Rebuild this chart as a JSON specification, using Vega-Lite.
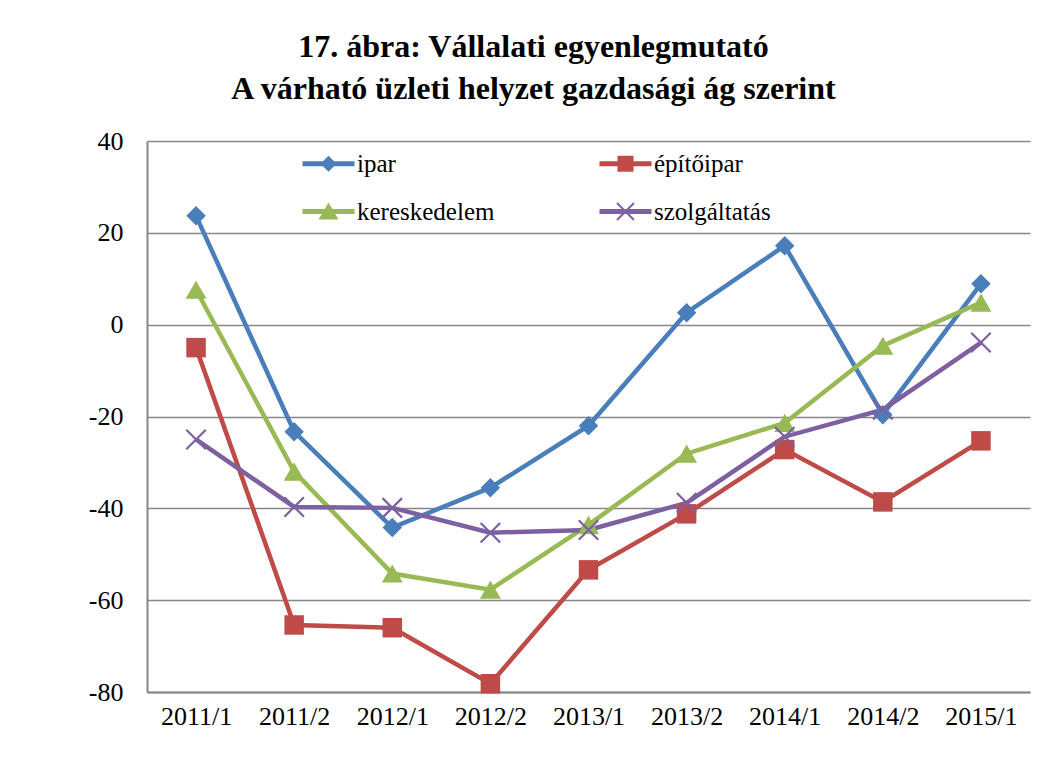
{
  "$schema": "https://vega.github.io/schema/vega-lite/v6.json",
  "autosize": {"type": "none"},
  "width": 883,
  "height": 551,
  "padding": {"left": 147, "top": 141, "right": 16, "bottom": 66},
  "background": "white",
  "title": {
    "text": ["17. ábra: Vállalati egyenlegmutató", "A várható üzleti helyzet gazdasági ág szerint"],
    "font": "Liberation Serif",
    "fontSize": 32,
    "fontWeight": "bold",
    "color": "black",
    "anchor": "middle",
    "dx": -55,
    "lineHeight": 42,
    "baseline": "bottom",
    "offset": -10
  },
  "data": {
    "values": [
      {"p": "2011/1", "s": "ipar", "v": 23.7},
      {"p": "2011/2", "s": "ipar", "v": -23.3},
      {"p": "2012/1", "s": "ipar", "v": -44.2},
      {"p": "2012/2", "s": "ipar", "v": -35.5},
      {"p": "2013/1", "s": "ipar", "v": -22.0},
      {"p": "2013/2", "s": "ipar", "v": 2.6},
      {"p": "2014/1", "s": "ipar", "v": 17.2},
      {"p": "2014/2", "s": "ipar", "v": -19.6},
      {"p": "2015/1", "s": "ipar", "v": 8.9},
      {"p": "2011/1", "s": "építőipar", "v": -5.0},
      {"p": "2011/2", "s": "építőipar", "v": -65.4},
      {"p": "2012/1", "s": "építőipar", "v": -66.0},
      {"p": "2012/2", "s": "építőipar", "v": -78.2},
      {"p": "2013/1", "s": "építőipar", "v": -53.4},
      {"p": "2013/2", "s": "építőipar", "v": -41.2},
      {"p": "2014/1", "s": "építőipar", "v": -27.2},
      {"p": "2014/2", "s": "építőipar", "v": -38.6},
      {"p": "2015/1", "s": "építőipar", "v": -25.3},
      {"p": "2011/1", "s": "kereskedelem", "v": 7.6},
      {"p": "2011/2", "s": "kereskedelem", "v": -32.0},
      {"p": "2012/1", "s": "kereskedelem", "v": -54.2},
      {"p": "2012/2", "s": "kereskedelem", "v": -57.7},
      {"p": "2013/1", "s": "kereskedelem", "v": -43.6},
      {"p": "2013/2", "s": "kereskedelem", "v": -28.1},
      {"p": "2014/1", "s": "kereskedelem", "v": -21.4},
      {"p": "2014/2", "s": "kereskedelem", "v": -4.6},
      {"p": "2015/1", "s": "kereskedelem", "v": 4.8},
      {"p": "2011/1", "s": "szolgáltatás", "v": -25.0},
      {"p": "2011/2", "s": "szolgáltatás", "v": -39.7},
      {"p": "2012/1", "s": "szolgáltatás", "v": -39.9},
      {"p": "2012/2", "s": "szolgáltatás", "v": -45.3},
      {"p": "2013/1", "s": "szolgáltatás", "v": -44.7},
      {"p": "2013/2", "s": "szolgáltatás", "v": -38.8},
      {"p": "2014/1", "s": "szolgáltatás", "v": -24.4},
      {"p": "2014/2", "s": "szolgáltatás", "v": -18.5},
      {"p": "2015/1", "s": "szolgáltatás", "v": -3.9}
    ]
  },
  "encoding": {
    "x": {
      "field": "p",
      "type": "ordinal",
      "scale": {"type": "point", "padding": 0.5},
      "axis": {
        "title": null,
        "labelAngle": 0,
        "labelFont": "Liberation Serif",
        "labelFontSize": 26,
        "labelColor": "black",
        "labelPadding": 11,
        "ticks": false,
        "domainColor": "#868686",
        "domainWidth": 2,
        "grid": false
      }
    },
    "y": {
      "field": "v",
      "type": "quantitative",
      "scale": {"domain": [-80, 40], "nice": false, "zero": false},
      "axis": {
        "title": null,
        "values": [-80, -60, -40, -20, 0, 20, 40],
        "labelExpr": "'' + datum.value",
        "labelFont": "Liberation Serif",
        "labelFontSize": 26,
        "labelColor": "black",
        "labelPadding": 24,
        "ticks": false,
        "domainColor": "#868686",
        "domainWidth": 2,
        "grid": true,
        "gridColor": "#868686",
        "gridWidth": 1.5
      }
    }
  },
  "layer": [
    {
      "mark": {"type": "point", "filled": true, "opacity": 0, "strokeWidth": 0},
      "encoding": {
        "color": {
          "field": "s",
          "type": "nominal",
          "scale": {
            "domain": ["ipar", "építőipar", "kereskedelem", "szolgáltatás"],
            "range": ["#4A7EBB", "#BE4B48", "#98B954", "#7D60A0"]
          },
          "legend": {
            "title": null,
            "orient": "none",
            "direction": "horizontal",
            "columns": 2,
            "legendX": 169,
            "legendY": 10,
            "padding": 0,
            "symbolSize": 400,
            "symbolOpacity": 1,
            "symbolStrokeWidth": 0,
            "labelOffset": 16,
            "labelFont": "Liberation Serif",
            "labelFontSize": 25,
            "labelColor": "black",
            "columnPadding": 104,
            "rowPadding": 22
          }
        },
        "shape": {
          "field": "s",
          "type": "nominal",
          "scale": {
            "domain": ["ipar", "építőipar", "kereskedelem", "szolgáltatás"],
            "range": [
              "M-2.6,-0.25L2.6,-0.25L2.6,0.25L-2.6,0.25Z M0,-0.8L0.8,0L0,0.8L-0.8,0Z",
              "M-2.6,-0.25L2.6,-0.25L2.6,0.25L-2.6,0.25Z M-0.8,-0.8L0.8,-0.8L0.8,0.8L-0.8,0.8Z",
              "M-2.6,-0.25L2.6,-0.25L2.6,0.25L-2.6,0.25Z M0,-0.9L1,0.8L-1,0.8Z",
              "M-2.6,-0.25L2.6,-0.25L2.6,0.25L-2.6,0.25Z M-0.78,-0.92L0.92,0.78L0.78,0.92L-0.92,-0.78Z M-0.92,0.78L0.78,-0.92L0.92,-0.78L-0.78,0.92Z"
            ]
          },
          "legend": {
            "title": null,
            "orient": "none",
            "direction": "horizontal",
            "columns": 2,
            "legendX": 169,
            "legendY": 10,
            "padding": 0,
            "symbolSize": 400,
            "symbolOpacity": 1,
            "symbolStrokeWidth": 0,
            "labelOffset": 16,
            "labelFont": "Liberation Serif",
            "labelFontSize": 25,
            "labelColor": "black",
            "columnPadding": 104,
            "rowPadding": 22
          }
        }
      }
    },
    {
      "mark": {"type": "line", "strokeWidth": 4.5},
      "encoding": {
        "color": {"field": "s", "type": "nominal", "legend": null}
      }
    },
    {
      "transform": [{"filter": "datum.s === 'ipar'"}],
      "mark": {"type": "point", "filled": true, "opacity": 1, "strokeWidth": 0, "shape": "diamond", "size": 380},
      "encoding": {"color": {"field": "s", "type": "nominal", "legend": null}}
    },
    {
      "transform": [{"filter": "datum.s === 'építőipar'"}],
      "mark": {"type": "point", "filled": true, "opacity": 1, "strokeWidth": 0, "shape": "square", "size": 380},
      "encoding": {"color": {"field": "s", "type": "nominal", "legend": null}}
    },
    {
      "transform": [{"filter": "datum.s === 'kereskedelem'"}],
      "mark": {"type": "point", "filled": true, "opacity": 1, "strokeWidth": 0, "shape": "triangle-up", "size": 440},
      "encoding": {"color": {"field": "s", "type": "nominal", "legend": null}}
    },
    {
      "transform": [{"filter": "datum.s === 'szolgáltatás'"}],
      "mark": {"type": "point", "filled": true, "opacity": 1, "strokeWidth": 0, "shape": "M-0.92,-1.08L1.08,0.92L0.92,1.08L-1.08,-0.92Z M-1.08,0.92L0.92,-1.08L1.08,-0.92L-0.92,1.08Z", "size": 380},
      "encoding": {"color": {"field": "s", "type": "nominal", "legend": null}}
    }
  ],
  "config": {
    "font": "Liberation Serif",
    "view": {"stroke": null},
    "range": {"category": ["#4A7EBB", "#BE4B48", "#98B954", "#7D60A0"]},
    "axis": {"labelFont": "Liberation Serif"},
    "legend": {"labelFont": "Liberation Serif", "labelFontSize": 25, "labelColor": "black"}
  }
}
